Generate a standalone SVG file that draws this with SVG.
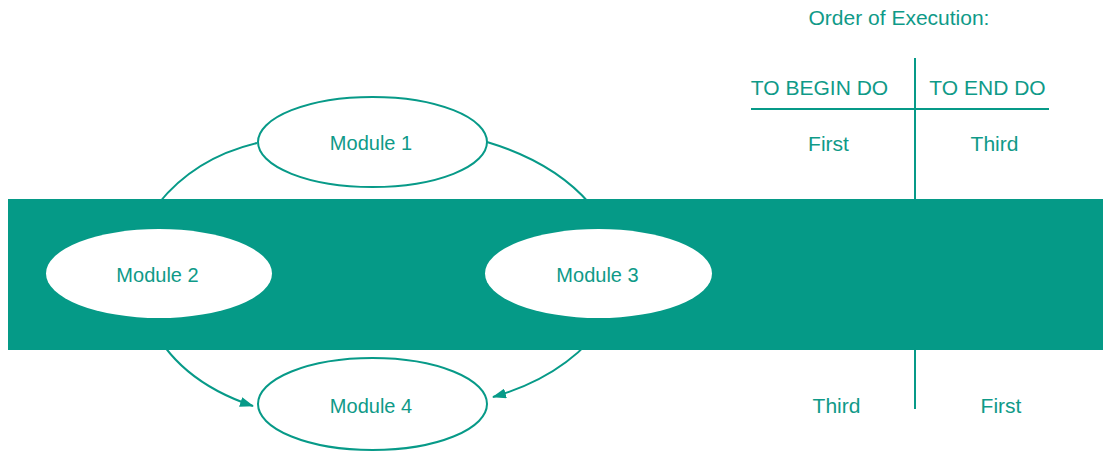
<svg xmlns="http://www.w3.org/2000/svg" width="1103" height="451" viewBox="0 0 1103 451">
<defs>
<style>
.t{font-family:"Liberation Sans",Arial,sans-serif;font-size:20px;fill:#0f9a88;text-anchor:middle}
.tb{font-size:21px}
.c{fill:none;stroke:#079a88;stroke-width:2}
.n{fill:#fff;stroke:#079a88;stroke-width:2}
.nb{fill:#fff;stroke:none}
.ln{stroke:#079a88;stroke-width:2}
</style>
<marker id="ah" markerWidth="14" markerHeight="10" refX="13" refY="5" orient="auto" markerUnits="userSpaceOnUse">
<path d="M0,0 L14,5 L0,10 Z" fill="#079a88"/>
</marker>
</defs>
<rect width="1103" height="451" fill="#fff"/>
<g id="connectors">
<path class="c" d="M257,143 C215,153 182,174 158,204 C150,214 145,222 145,230"/>
<path class="c" d="M487,142 C530,155 565,175 590,204 C596,212 600,222 600,230"/>
<path class="c" d="M148,318 Q175,380 253,406" marker-end="url(#ah)"/>
<path class="c" d="M608,318 Q570,375 493,397" marker-end="url(#ah)"/>
</g>
<g id="table">
<text class="t tb" x="899" y="25">Order of Execution:</text>
<text class="t tb" x="819.5" y="95">TO BEGIN DO</text>
<text class="t tb" x="987.5" y="95">TO END DO</text>
<line class="ln" x1="751" y1="109" x2="1049" y2="109"/>
<line class="ln" x1="915" y1="58" x2="915" y2="409"/>
<text class="t tb" x="828.5" y="151">First</text>
<text class="t tb" x="994.5" y="151">Third</text>
<text class="t tb" x="836.5" y="413">Third</text>
<text class="t tb" x="1001" y="413">First</text>
</g>
<rect id="band" x="8" y="199" width="1095" height="151" fill="#059a87"/>
<g id="module1">
<ellipse class="n" cx="372.5" cy="142" rx="114.5" ry="45"/>
<text class="t" x="371" y="150">Module 1</text>
</g>
<g id="module2">
<ellipse class="nb" cx="159" cy="273.5" rx="113" ry="44.5"/>
<text class="t" x="157.5" y="282">Module 2</text>
</g>
<g id="module3">
<ellipse class="nb" cx="598.5" cy="273.5" rx="113.5" ry="44.5"/>
<text class="t" x="597.5" y="282">Module 3</text>
</g>
<g id="module4">
<ellipse class="n" cx="372.5" cy="404" rx="114.5" ry="46"/>
<text class="t" x="371" y="413">Module 4</text>
</g>
</svg>
